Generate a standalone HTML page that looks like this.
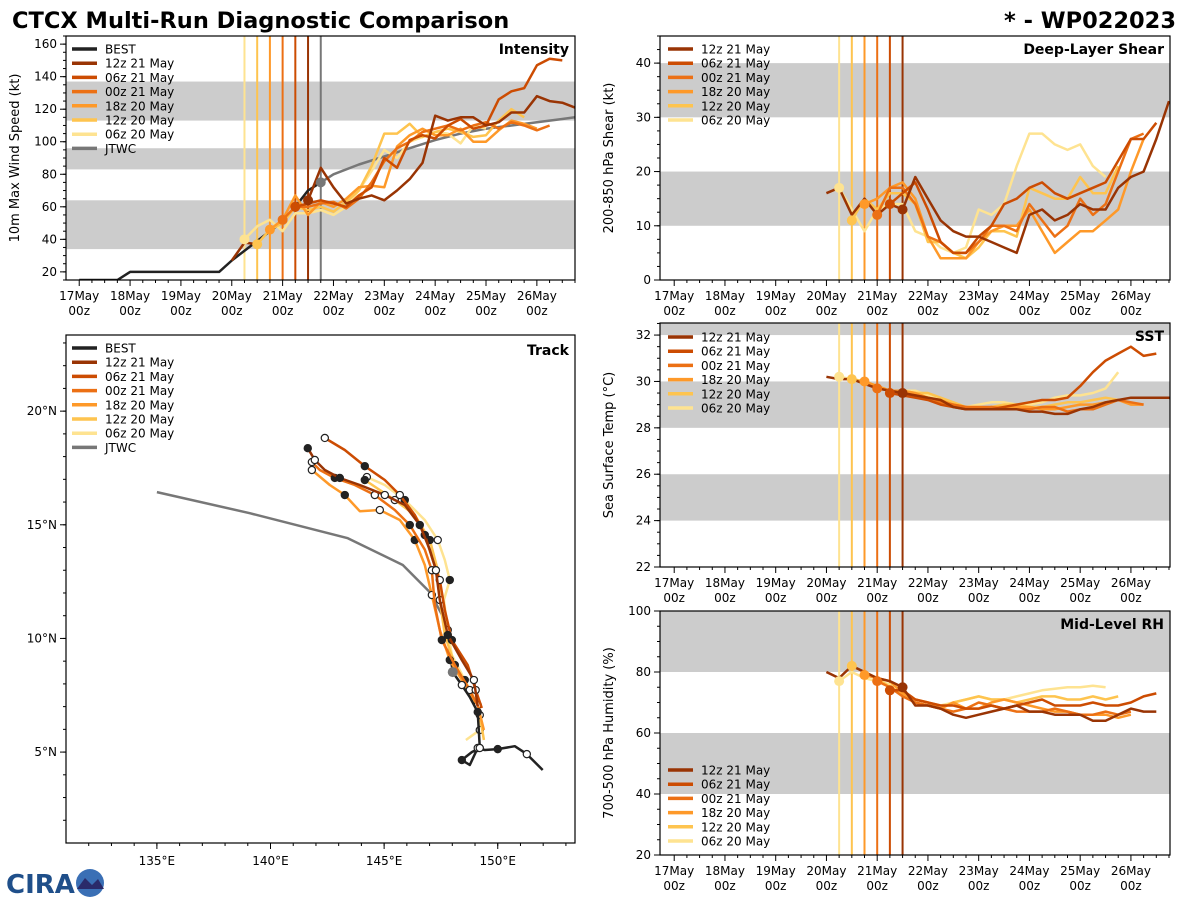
<!DOCTYPE html>
<html><head><meta charset="utf-8"><style>
body{margin:0;background:#fff;font-family:"DejaVu Sans","Liberation Sans",sans-serif;}
svg text{font-family:"DejaVu Sans","Liberation Sans",sans-serif;}
</style></head><body>
<svg id="fig" width="1200" height="900" viewBox="0 0 1200 900" xmlns="http://www.w3.org/2000/svg">
<rect width="1200" height="900" fill="#fff"/>
<text x="12" y="28" font-size="22.5" font-weight="bold">CTCX Multi-Run Diagnostic Comparison</text>
<text x="1176" y="28" font-size="22.5" font-weight="bold" text-anchor="end">* - WP022023</text>
<g>
<text x="6" y="893" font-size="26" font-weight="bold" fill="#1f4f8a" font-family="Liberation Sans">CIRA</text>
<circle cx="90" cy="883" r="14" fill="#3a6fb5"/>
<path d="M77 889 L85 878 L92 885 L98 879 L104 889 Z" fill="#2a2a6a"/>
</g>
</svg>
<script>
// ---------- data ----------
const models = ["12z 21 May","06z 21 May","00z 21 May","18z 20 May","12z 20 May","06z 20 May"];
const modelInit = [4.5,4.25,4.0,3.75,3.5,3.25];   // days since 17 May 00z
const xTickLabels = ["17May","18May","19May","20May","21May","22May","23May","24May","25May","26May"];
const jtwcInit = 4.75;

const intStart = [4.5,4.25,4.0,3.75,3.5,3.25];
const int12z21 = [64,84,72,62,65,67,64,70,77,87,116,113,115,115,110,112,118,118,128,125,124,121];
const int06z21 = [60,62,64,62,60,67,72,90,84,101,104,102,110,114,108,110,126,131,133,147,151,150];
const int00z21 = [52,60,60,62,63,59,65,75,88,96,100,106,108,110,107,110,112,108,112,110,107,110];
const int18z20 = [46,52,67,55,63,60,65,72,73,72,97,104,108,104,104,108,100,100,107,113,111,108];
const int12z20 = [37,46,50,60,58,60,57,63,70,85,105,105,111,103,106,108,106,103,104,113,120,115];
const int06z20 = [40,48,52,45,56,56,58,55,60,70,82,95,90,100,103,106,105,99,110,108];
const intPrev = [27,38,37];
const bestT = [0,0.75,1,2.75,3,3.25,3.5,3.75,4,4.25,4.5,4.75];
const bestV = [15,15,20,20,27,33,39,45,51,60,70,75];
const jtwcT = [4.75,5,5.5,6,6.5,7,7.5,8,8.5,9,9.5,9.75];
const jtwcV = [75,80,86,91,96,101,105,108,110,112,114,115];

const shrStart = [3.0,4.25,4.0,3.75,3.5,3.25];
const shr12z21 = [16,17,12,15,12,14,13,19,15,11,9,8,8,7,6,5,12,13,11,12,14,13,13,17,19,20,26,33];
const shr06z21 = [14,16,18,13,7,5,5,8,10,14,15,17,18,16,15,16,17,18,22,26,26,29];
const shr00z21 = [12,17,17,14,8,7,5,5,7,10,10,9,14,11,8,10,15,12,14,20,26,27];
const shr18z20 = [14,15,17,18,15,8,4,4,4,7,9,10,10,13,9,5,7,9,9,11,13,20,26];
const shr12z20 = [11,15,13,16,16,14,7,7,5,4,6,9,9,8,17,16,15,15,19,16,16,21];
const shr06z20 = [17,13,9,13,14,14,9,8,6,5,6,13,12,14,21,27,27,25,24,25,21,19];

const sstStart = [3.0,4.25,4.0,3.75,3.5,3.25];
const sst12z21 = [30.2,30.1,30.1,29.9,29.7,29.6,29.5,29.4,29.3,29.2,28.9,28.8,28.8,28.8,28.8,28.8,28.7,28.7,28.6,28.6,28.8,28.9,29.1,29.2,29.3,29.3,29.3,29.3,29.0];
const sst06z21 = [29.5,29.4,29.3,29.2,29.0,28.9,28.8,28.8,28.8,28.9,29.0,29.1,29.2,29.2,29.3,29.8,30.4,30.9,31.2,31.5,31.1,31.2];
const sst00z21 = [29.7,29.6,29.5,29.4,29.3,29.1,29.0,28.9,28.9,28.9,28.8,28.8,28.8,28.9,28.9,28.7,28.8,28.8,29.0,29.2,29.1,29.0];
const sst18z20 = [30.0,29.8,29.6,29.6,29.5,29.3,29.2,29.0,28.9,28.8,28.9,28.9,28.9,28.9,28.8,28.8,28.9,29.0,29.0,29.1,29.2,29.0,29.0];
const sst12z20 = [30.1,30.0,29.8,29.6,29.6,29.5,29.5,29.3,29.1,28.9,28.8,28.9,29.0,29.0,28.9,28.9,29.0,29.1,29.1,29.2,29.3,29.2];
const sst06z20 = [30.2,30.1,30.0,29.7,29.6,29.6,29.6,29.4,29.2,29.0,28.9,29.0,29.1,29.1,29.0,29.0,29.1,29.3,29.4,29.4,29.5,29.7,30.4];

const rhStart = [3.0,4.25,4.0,3.75,3.5,3.25];
const rh12z21 = [80,78,82,80,78,77,75,69,69,68,66,65,66,67,68,69,67,67,66,66,66,64,64,66,68,67,67];
const rh06z21 = [74,74,71,70,69,69,68,68,69,68,69,70,71,69,69,69,70,69,69,70,72,73];
const rh00z21 = [77,75,72,70,69,68,67,68,70,69,68,67,67,67,68,67,66,66,67,66,67];
const rh18z20 = [79,78,77,73,71,70,68,70,68,68,70,71,70,69,68,67,67,66,66,66,65,66];
const rh12z20 = [82,80,78,75,73,70,69,68,70,71,72,71,71,70,71,72,72,71,71,72,71,72];
const rh06z20 = [77,80,78,77,76,74,71,70,69,70,71,72,71,71,72,73,74,74.5,75,75,75.5,75];

const bestLon = [151.98,151.28,150.75,150.0,149.43,149.12,148.77,148.42,148.86,149.21,149.17,149.12,148.77,148.42,148.02];
const bestLat = [4.21,4.91,5.26,5.13,5.09,5.18,4.43,4.65,5.0,5.18,5.88,6.76,7.42,7.95,8.52];
const jtwcLon = [135,139.09,143.40,145.82,147.01,147.67,148.02];
const jtwcLat = [16.44,15.51,14.41,13.23,12.04,10.81,8.52];
const trk12z21Lon = [149.12,148.95,148.42,147.80,147.45,147.28,147.01,146.57,145.91,145.03,143.93,143.05,142.39,141.95,141.64];
const trk12z21Lat = [7.02,8.17,9.05,10.15,11.69,13.0,13.91,14.99,15.87,16.31,16.75,17.06,17.41,17.85,18.37];
const trk06z21Lon = [149.30,149.03,148.68,147.98,147.67,147.45,147.14,146.79,146.35,145.69,145.03,144.15,143.27,142.39];
const trk06z21Lat = [6.94,7.73,8.83,9.93,11.25,12.57,13.45,14.55,15.43,16.31,16.97,17.58,18.29,18.82];
const trk00z21Lon = [149.21,148.77,148.11,147.54,147.23,147.10,146.79,146.13,145.47,144.59,143.71,142.83,142.17,141.82];
const trk00z21Lat = [6.85,7.73,8.83,9.93,11.47,13.0,13.91,14.99,15.65,16.31,16.75,17.06,17.41,17.76];
const trk18z20Lon = [149.39,149.12,148.55,147.89,147.45,147.10,146.79,146.35,145.69,144.81,143.93,143.27,142.61,141.82];
const trk18z20Lat = [5.97,7.07,7.95,9.05,10.37,11.91,13.23,14.33,15.21,15.65,15.60,16.31,16.75,17.41];
const trk12z20Lon = [149.39,149.21,148.68,148.11,147.67,147.45,147.36,147.01,146.35,145.47,144.81,144.15];
const trk12z20Lat = [5.53,6.63,7.73,8.83,10.15,11.69,13.0,14.33,15.43,16.09,16.53,16.97];
const trk06z20Lon = [148.60,149.21,149.12,148.55,147.98,147.80,147.63,147.89,147.67,147.36,146.79,145.91,145.03,144.24];
const trk06z20Lat = [5.53,5.97,7.07,8.17,9.27,10.37,11.69,12.57,13.45,14.33,15.21,16.09,16.75,17.10];

// ---------- drawing ----------
const COLORS = ["#993404","#cc4c02","#ec7014","#fe9929","#fec44f","#fee391"];
const NS = "http://www.w3.org/2000/svg";
const fig = document.getElementById("fig");
function el(tag, attrs, parent){const e=document.createElementNS(NS,tag);for(const k in attrs)e.setAttribute(k,attrs[k]);(parent||fig).appendChild(e);return e;}
function txt(s, attrs, parent){const t=el("text",attrs,parent);t.textContent=s;return t;}
let clipN=0;

function makePanel(name, x0,y0,w,h, xmin,xmax,ymin,ymax, bands, yticks, ylabel, title){
  const g=el("g",{});
  
  
  const sx=v=>x0+(v-xmin)/(xmax-xmin)*w, sy=v=>y0+h-(v-ymin)/(ymax-ymin)*h;
  const cid="c"+(clipN++);
  const cp=el("clipPath",{id:cid},g); el("rect",{x:x0,y:y0,width:w,height:h},cp);
  const plot=el("g",{"clip-path":"url(#"+cid+")"},g);
  bands.forEach(b=>{const r=el("rect",{x:x0,y:sy(b[1]),width:w,height:sy(b[0])-sy(b[1]),fill:"#cccccc"},plot);
    
    });
  const ax=el("g",{},g);
  yticks.forEach(v=>{const y=sy(v);el("line",{x1:x0-6,x2:x0,y1:y,y2:y,stroke:"#000"},ax);
    const t=txt(String(v),{x:x0-9,y:y+4,"font-size":12,"text-anchor":"end"},ax);
    
    });
  const step=yticks[1]-yticks[0];
  for(let v=yticks[0]-step;v<=ymax;v+=step/4){const y=sy(v);if(y<y0||y>y0+h)continue;el("line",{x1:x0-3,x2:x0,y1:y,y2:y,stroke:"#000"},ax);}
  const yl=txt(ylabel,{x:0,y:0,"font-size":13,"text-anchor":"middle",transform:`translate(${x0-47},${y0+h/2}) rotate(-90)`},ax);
  
  
  if(title){const t=txt(title,{x:x0+w-6,y:y0+18,"font-size":14,"font-weight":"bold","text-anchor":"end"},g);
    
    }
  return {g,plot,ax,sx,sy,x0,y0,w,h};
}
function timeAxis(p,name){
  for(let d=0;d<=9.75;d+=0.25){const x=p.sx(d);if(x<p.x0-0.5||x>p.x0+p.w+0.5)continue;
    const major=Math.abs(d-Math.round(d))<1e-6;
    el("line",{x1:x,x2:x,y1:p.y0+p.h,y2:p.y0+p.h+(major?6:3),stroke:"#000"},p.ax);}
  xTickLabels.forEach((lab,i)=>{const x=p.sx(i);
    const t=txt(lab,{x:x,y:p.y0+p.h+20,"font-size":12,"text-anchor":"middle"},p.ax);
    
    
    txt("00z",{x:x,y:p.y0+p.h+35,"font-size":12,"text-anchor":"middle"},p.ax);});
}
function frame(p){el("rect",{x:p.x0,y:p.y0,width:p.w,height:p.h,fill:"none",stroke:"#000","stroke-width":1.2},p.g);}
function series(p,ts,vs,color,w,name){
  const pts=vs.map((v,i)=>p.sx(ts(i)).toFixed(1)+","+p.sy(v).toFixed(1)).join(" ");
  const l=el("polyline",{points:pts,fill:"none",stroke:color,"stroke-width":w||2.5,"stroke-linejoin":"round"},p.plot);
  
  
  return l;
}
function initLines(p,name){
  modelInit.slice().reverse().forEach((d,k)=>{const i=5-k;const x=p.sx(d);
    const l=el("line",{x1:x,x2:x,y1:p.y0,y2:p.y0+p.h,stroke:COLORS[i],"stroke-width":2},p.plot);
    
    });
}
function dot(p,x,y,color,r){el("circle",{cx:x,cy:y,r:r||5,fill:color},p.plot);}
function legend(p,x,y,entries,name){
  const g=el("g",{},p.g);
  
  
  entries.forEach((e,i)=>{const yy=y+i*14.2;
    el("line",{x1:x,x2:x+25,y1:yy,y2:yy,stroke:e[1],"stroke-width":3.5},g);
    const t=txt(e[0],{x:x+33,y:yy+4.5,"font-size":12},g);
    
    });
}
const modelEntries=models.map((m,i)=>[m,COLORS[i]]);

// Intensity
(function(){
  const p=makePanel("intensity",66,36,509,244,-0.26,9.75,15,165,[[34,64],[83,96],[113,137]],[20,40,60,80,100,120,140,160],"10m Max Wind Speed (kt)","Intensity");
  timeAxis(p,"intensity"); initLines(p,"intensity");
  const jx=p.sx(jtwcInit); el("line",{x1:jx,x2:jx,y1:p.y0,y2:p.y0+p.h,stroke:"#777","stroke-width":2},p.plot);
  series(p,i=>jtwcT[i],jtwcV,"#777",2.5,"jtwc-intensity-line");
  series(p,i=>bestT[i],bestV,"#222",2.5,"best-intensity-line");
  const arrs=[int12z21,int06z21,int00z21,int18z20,int12z20,int06z20];
  for(let i=5;i>=0;i--){series(p,k=>intStart[i]+0.25*k,arrs[i],COLORS[i],2.5,"intensity-line-"+i);}
  series(p,k=>3+0.25*k,intPrev,COLORS[0],2.5,"intensity-line-prev");
  for(let i=5;i>=0;i--) dot(p,p.sx(intStart[i]),p.sy(arrs[i][0]),COLORS[i]);
  dot(p,p.sx(jtwcInit),p.sy(jtwcV[0]),"#777");
  frame(p);
  legend(p,72,49,[["BEST","#222"],...modelEntries,["JTWC","#777"]],"intensity");
})();

// Shear
(function(){
  const p=makePanel("shear",660,36,510,244,-0.28,9.77,0,45,[[10,20],[30,40]],[0,10,20,30,40],"200-850 hPa Shear (kt)","Deep-Layer Shear");
  timeAxis(p,"shear"); initLines(p,"shear");
  const arrs=[shr12z21,shr06z21,shr00z21,shr18z20,shr12z20,shr06z20];
  for(let i=5;i>=0;i--) series(p,k=>shrStart[i]+0.25*k,arrs[i],COLORS[i],2.5,"shear-line-"+i);
  for(let i=5;i>=0;i--){const off=Math.round((modelInit[i]-shrStart[i])/0.25);dot(p,p.sx(modelInit[i]),p.sy(arrs[i][off]),COLORS[i]);}
  frame(p); legend(p,668,49,modelEntries,"shear");
})();

// SST
(function(){
  const p=makePanel("sst",660,323,510,244,-0.28,9.77,22,32.52,[[24,26],[28,30],[32,34]],[22,24,26,28,30,32],"Sea Surface Temp (°C)","SST");
  timeAxis(p,"sst"); initLines(p,"sst");
  const arrs=[sst12z21,sst06z21,sst00z21,sst18z20,sst12z20,sst06z20];
  for(let i=5;i>=0;i--) series(p,k=>sstStart[i]+0.25*k,arrs[i],COLORS[i],2.5,"sst-line-"+i);
  for(let i=5;i>=0;i--){const off=Math.round((modelInit[i]-sstStart[i])/0.25);dot(p,p.sx(modelInit[i]),p.sy(arrs[i][off]),COLORS[i]);}
  frame(p); legend(p,668,337,modelEntries,"sst");
})();

// RH
(function(){
  const p=makePanel("rh",660,611,510,244,-0.28,9.77,20,100,[[40,60],[80,100]],[20,40,60,80,100],"700-500 hPa Humidity (%)","Mid-Level RH");
  timeAxis(p,"rh"); initLines(p,"rh");
  const arrs=[rh12z21,rh06z21,rh00z21,rh18z20,rh12z20,rh06z20];
  for(let i=5;i>=0;i--) series(p,k=>rhStart[i]+0.25*k,arrs[i],COLORS[i],2.5,"rh-line-"+i);
  for(let i=5;i>=0;i--){const off=Math.round((modelInit[i]-rhStart[i])/0.25);dot(p,p.sx(modelInit[i]),p.sy(arrs[i][off]),COLORS[i]);}
  frame(p); legend(p,668,770,modelEntries,"rh");
})();

// Track
(function(){
  const x0=66,y0=335,w=509,h=508, lonMin=131.0,lonMax=153.4,latMin=1.0,latMax=23.35;
  const g=el("g",{});
  
  
  const sx=v=>x0+(v-lonMin)/(lonMax-lonMin)*w, sy=v=>y0+h-(v-latMin)/(latMax-latMin)*h;
  const cp=el("clipPath",{id:"ctrk"},g); el("rect",{x:x0,y:y0,width:w,height:h},cp);
  const plot=el("g",{"clip-path":"url(#ctrk)"},g);
  for(let v=132;v<=153;v++){const x=sx(v);el("line",{x1:x,x2:x,y1:y0+h,y2:y0+h+3,stroke:"#000"},g);}
  for(let v=2;v<=23;v++){const y=sy(v);el("line",{x1:x0-3,x2:x0,y1:y,y2:y,stroke:"#000"},g);}
  [135,140,145,150].forEach(v=>{const x=sx(v);el("line",{x1:x,x2:x,y1:y0+h,y2:y0+h+6,stroke:"#000"},g);
    const t=txt(v+"°E",{x:x,y:y0+h+22,"font-size":12,"text-anchor":"middle"},g);
    
    });
  [5,10,15,20].forEach(v=>{const y=sy(v);el("line",{x1:x0-6,x2:x0,y1:y,y2:y,stroke:"#000"},g);
    const t=txt(v+"°N",{x:x0-9,y:y+4,"font-size":12,"text-anchor":"end"},g);
    
    });
  function trk(lons,lats,color,name,marks){
    const pts=lons.map((v,i)=>sx(v).toFixed(1)+","+sy(lats[i]).toFixed(1)).join(" ");
    const l=el("polyline",{points:pts,fill:"none",stroke:color,"stroke-width":2.5,"stroke-linejoin":"round"},plot);
    
    
    if(marks) lons.forEach((v,i)=>{if(i%2!==1&&i!==lons.length-1)return;
      el("circle",{cx:sx(v),cy:sy(lats[i]),r:3.6,fill:((i>>1)%2? "#222":"#fff"),stroke:"#222","stroke-width":1.2},plot);});
  }
  trk(jtwcLon,jtwcLat,"#777","jtwc-track",false);
  const T=[[trk06z20Lon,trk06z20Lat],[trk12z20Lon,trk12z20Lat],[trk18z20Lon,trk18z20Lat],[trk00z21Lon,trk00z21Lat],[trk06z21Lon,trk06z21Lat],[trk12z21Lon,trk12z21Lat]];
  T.forEach((t,k)=>trk(t[0],t[1],COLORS[5-k],"model-track-"+(5-k),true));
  trk(bestLon,bestLat,"#222","best-track",true);
  el("circle",{cx:sx(jtwcLon[6]),cy:sy(jtwcLat[6]),r:5,fill:"#777"},plot);
  el("rect",{x:x0,y:y0,width:w,height:h,fill:"none",stroke:"#000","stroke-width":1.2},g);
  const tt=txt("Track",{x:x0+w-6,y:y0+20,"font-size":14,"font-weight":"bold","text-anchor":"end"},g);
  
  
  legend({g},72,348,[["BEST","#222"],...modelEntries,["JTWC","#777"]],"track");
})();
</script>
</body></html>
